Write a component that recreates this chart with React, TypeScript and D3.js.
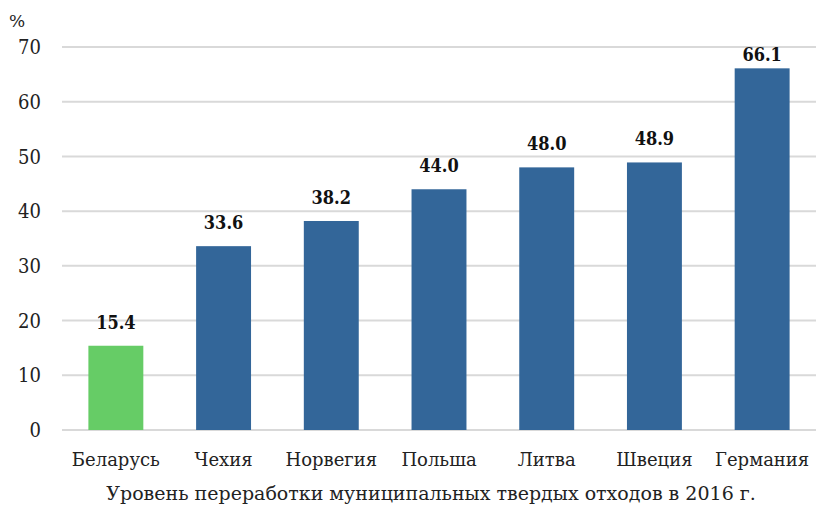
import React, { useEffect, useRef } from "react";
import * as d3 from "d3";

const categories = ["Беларусь", "Чехия", "Норвегия", "Польша", "Литва", "Швеция", "Германия"];
const values = [15.4, 33.6, 38.2, 44.0, 48.0, 48.9, 66.1];
const yTicks = [0, 10, 20, 30, 40, 50, 60, 70];
const title = "Уровень переработки муниципальных твердых отходов в 2016 г.";

export const App = () => {
  const ref = useRef<HTMLDivElement>(null);

  useEffect(() => {
    if (!ref.current) return;
    document.body.style.margin = "0";
    const width = 816;
    const height = 508;
    const font = "DejaVu Serif, serif";
    const condensed = "DejaVu Serif Condensed, DejaVu Serif, serif";

    d3.select(ref.current).selectAll("*").remove();

    const svg = d3
      .select(ref.current)
      .append("svg")
      .attr("width", width)
      .attr("height", height)
      .style("display", "block")
      .style("font-family", font);

    const x = d3.scaleBand().domain(categories).range([62, 816]).paddingInner(0.49).paddingOuter(0.245);
    const y = d3.scaleLinear().domain([0, 70]).range([430, 47]);

    // gridlines
    svg
      .append("g")
      .selectAll("line")
      .data(yTicks)
      .join("line")
      .attr("x1", 62)
      .attr("x2", 816)
      .attr("y1", (d) => y(d))
      .attr("y2", (d) => y(d))
      .attr("stroke", "#d9d9d9")
      .attr("stroke-width", 2);

    // y tick labels
    svg
      .append("g")
      .selectAll("text")
      .data(yTicks)
      .join("text")
      .attr("x", 41)
      .attr("y", (d) => y(d))
      .attr("dy", "0.36em")
      .attr("text-anchor", "end")
      .style("font-family", condensed)
      .style("font-size", "20px")
      .attr("fill", "#222")
      .text((d) => d);

    svg
      .append("text")
      .attr("x", 9)
      .attr("y", 27)
      .style("font-size", "17px")
      .attr("fill", "#222")
      .text("%");

    // bars
    svg
      .append("g")
      .selectAll("rect")
      .data(values)
      .join("rect")
      .attr("x", (d, i) => x(categories[i])!)
      .attr("width", x.bandwidth())
      .attr("y", (d) => y(d))
      .attr("height", (d) => y(0) - y(d))
      .attr("fill", (d, i) => (i === 0 ? "#66cc66" : "#336699"));

    // value labels
    svg
      .append("g")
      .selectAll("text")
      .data(values)
      .join("text")
      .attr("x", (d, i) => x(categories[i])! + x.bandwidth() / 2)
      .attr("y", (d) => Math.max(61, y(d) - 17))
      .attr("text-anchor", "middle")
      .style("font-family", condensed)
      .style("font-size", "18px")
      .style("font-weight", "bold")
      .attr("fill", "#111")
      .text((d) => d.toFixed(1));

    // category labels
    svg
      .append("g")
      .selectAll("text")
      .data(categories)
      .join("text")
      .attr("x", (d) => x(d)! + x.bandwidth() / 2)
      .attr("y", 466)
      .attr("text-anchor", "middle")
      .style("font-size", "18px")
      .attr("fill", "#222")
      .text((d) => d);

    svg
      .append("text")
      .attr("x", 431)
      .attr("y", 500)
      .attr("text-anchor", "middle")
      .style("font-size", "19px")
      .attr("fill", "#222")
      .text(title);
  }, []);

  return <div ref={ref}></div>;
};

export default App;
